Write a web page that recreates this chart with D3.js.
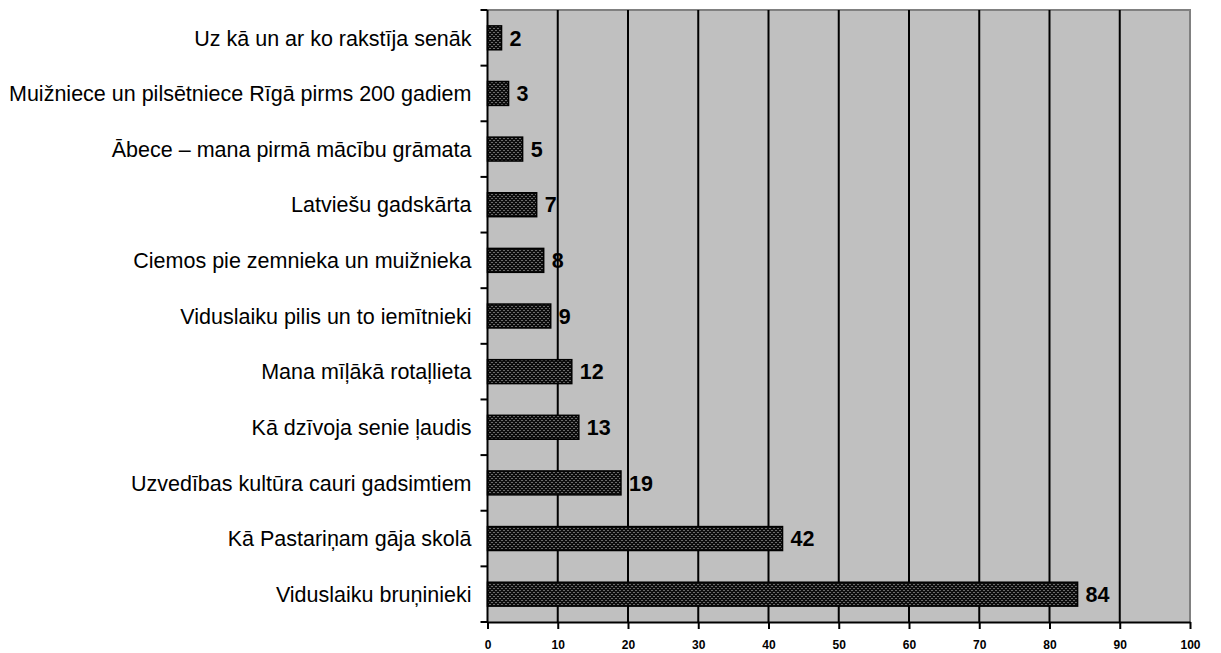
<!DOCTYPE html>
<html>
<head>
<meta charset="utf-8">
<script src="https://cdn.jsdelivr.net/npm/d3@7"></script>
<style>
  body { margin: 0; background: #fff; }
  svg text { font-family: "Liberation Sans", Arial, sans-serif; }
</style>
</head>
<body>
<svg id="chart" width="1221" height="653"></svg>
<script>
// data, top to bottom as in the picture
const categories = [
  "Uz kā un ar ko rakstīja senāk",
  "Muižniece un pilsētniece Rīgā pirms 200 gadiem",
  "Ābece – mana pirmā mācību grāmata",
  "Latviešu gadskārta",
  "Ciemos pie zemnieka un muižnieka",
  "Viduslaiku pilis un to iemītnieki",
  "Mana mīļākā rotaļlieta",
  "Kā dzīvoja senie ļaudis",
  "Uzvedības kultūra cauri gadsimtiem",
  "Kā Pastariņam gāja skolā",
  "Viduslaiku bruņinieki"
];
const values = [2, 3, 5, 7, 8, 9, 12, 13, 19, 42, 84];
const xTicks = [0, 10, 20, 30, 40, 50, 60, 70, 80, 90, 100];

const svg = d3.select("#chart");
const margin = { top: 10, right: 31, bottom: 31, left: 487.5 };
const width = 1221 - margin.left - margin.right;
const height = 653 - margin.top - margin.bottom;

const g = svg.append("g").attr("transform", "translate(" + margin.left + "," + margin.top + ")");

// dotted fill for the bars
const pat = svg.append("defs").append("pattern")
  .attr("id", "dots")
  .attr("patternUnits", "userSpaceOnUse")
  .attr("width", 4).attr("height", 4);
pat.append("rect").attr("width", 4).attr("height", 4).attr("fill", "#0d0d0d");
pat.append("rect").attr("x", 0).attr("y", 0).attr("width", 1).attr("height", 1).attr("fill", "#c8c8c8");
pat.append("rect").attr("x", 2).attr("y", 2).attr("width", 1).attr("height", 1).attr("fill", "#c8c8c8");

const x = d3.scaleLinear().domain([0, 100]).range([0, width]);
const y = d3.scaleBand().domain(categories).range([0, height])
  .paddingInner(0.57).paddingOuter(0.285);

// plot background
g.append("rect")
  .attr("width", width).attr("height", height)
  .attr("fill", "#c0c0c0");

// grey frame top / right
g.append("path")
  .attr("d", "M0,0H" + width + "V" + height)
  .attr("fill", "none").attr("stroke", "#808080").attr("stroke-width", 2);

// vertical gridlines
g.append("g").selectAll("line")
  .data(xTicks.filter(d => d > 0 && d < 100))
  .enter().append("line")
  .attr("x1", d => x(d)).attr("x2", d => x(d))
  .attr("y1", 0).attr("y2", height)
  .attr("stroke", "#000").attr("stroke-width", 2);

// bars
g.append("g").selectAll("rect")
  .data(values)
  .enter().append("rect")
  .attr("x", x(0))
  .attr("y", (d, i) => y(categories[i]))
  .attr("width", d => x(d) - x(0))
  .attr("height", y.bandwidth())
  .attr("fill", "url(#dots)")
  .attr("stroke", "#000").attr("stroke-width", 1.5);

// value labels
g.append("g").selectAll("text")
  .data(values)
  .enter().append("text")
  .attr("x", d => x(d) + 8)
  .attr("y", (d, i) => y(categories[i]) + y.bandwidth() / 2)
  .attr("dy", "0.36em")
  .attr("font-size", 21.5)
  .attr("font-weight", "bold")
  .text(d => d);

// x axis
const xAxis = g.append("g")
  .attr("transform", "translate(0," + height + ")")
  .call(d3.axisBottom(x).tickValues(xTicks).tickSize(7).tickSizeOuter(0).tickPadding(11));
xAxis.select(".domain").attr("stroke-width", 2);
xAxis.selectAll(".tick line").attr("stroke-width", 2);
xAxis.selectAll("text")
  .attr("font-size", 12).attr("font-weight", "bold")
  .attr("font-family", "Liberation Sans, Arial, sans-serif");

// y axis: line, ticks at band boundaries, labels
const step = y.step();
const bounds = d3.range(categories.length + 1).map(i => i * step);
g.append("line")
  .attr("x1", 0).attr("x2", 0).attr("y1", 0).attr("y2", height)
  .attr("stroke", "#000").attr("stroke-width", 2);
g.append("g").selectAll("line")
  .data(bounds)
  .enter().append("line")
  .attr("x1", -7).attr("x2", 0)
  .attr("y1", d => d).attr("y2", d => d)
  .attr("stroke", "#000").attr("stroke-width", 2);
g.append("g").selectAll("text")
  .data(categories)
  .enter().append("text")
  .attr("x", -16)
  .attr("y", d => y(d) + y.bandwidth() / 2)
  .attr("dy", "0.36em")
  .attr("text-anchor", "end")
  .attr("font-size", 21.5)
  .text(d => d);
</script>
</body>
</html>
